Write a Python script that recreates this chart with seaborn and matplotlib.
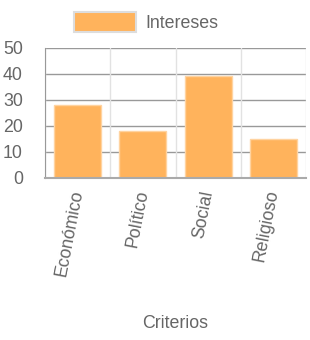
import matplotlib
matplotlib.use("Agg")
import matplotlib.pyplot as plt
import matplotlib.patches as mpatches
import seaborn as sns
import pandas as pd

categorias = ["Económico", "Político", "Social", "Religioso"]
intereses = [28, 18, 39, 15]
y_ticks = [0, 10, 20, 30, 40, 50]
serie = "Intereses"
x_titulo = "Criterios"

sns.set_style("white")
plt.rcParams["font.family"] = ["Liberation Sans", "DejaVu Sans"]

FS = 12.8
W, H = 310, 340
fig = plt.figure(figsize=(W / 100, H / 100), dpi=100)
ax = fig.add_axes([45 / W, 1 - 177.7 / H, (306 - 45) / W, (177.7 - 47.5) / H])

df = pd.DataFrame({"cat": categorias, "val": intereses})
bar_color = "#FFB35C"
sns.barplot(data=df, x="cat", y="val", color=bar_color, saturation=1, width=0.72,
            edgecolor="#FFD3A0", linewidth=1, ax=ax)

ax.set_xlim(-0.5, len(categorias) - 0.5)
ax.set_ylim(0, 50)
ax.set_yticks(y_ticks)
ax.set_yticklabels([str(v) for v in y_ticks], fontsize=FS, color="#666666")

# grid
for v in y_ticks[1:]:
    ax.axhline(v, color="#999999", lw=1, zorder=0)
ax.set_xticks([i - 0.5 for i in range(len(categorias) + 1)], minor=True)
ax.grid(False)
ax.xaxis.grid(True, which="minor", color="#e2e2e2", lw=1, zorder=0)
ax.set_axisbelow(True)
ax.tick_params(axis="x", which="minor", length=15, color="#e2e2e2", width=1, direction="out")
ax.tick_params(axis="x", which="major", length=0, pad=9)
ax.tick_params(axis="y", length=14, color="#999999", width=1, pad=2)

ax.set_xticks(range(len(categorias)))
ax.set_xticklabels(categorias, rotation=79, rotation_mode="anchor", ha="right", va="center",
                   fontsize=FS, color="#666666")

for s in ["top", "right"]:
    ax.spines[s].set_visible(False)
ax.spines["left"].set_color("#999999")
ax.spines["bottom"].set_color("#aaaaaa")
ax.spines["bottom"].set_linewidth(1.5)

ax.set_xlabel("")
ax.set_ylabel("")
fig.text(175 / W, 1 - 323 / H, x_titulo, ha="center", va="center", fontsize=FS, color="#666666")

handle = mpatches.Patch(facecolor=bar_color, edgecolor="#dddddd", linewidth=1.5, label=serie)
fig.legend(handles=[handle], loc="center", bbox_to_anchor=(146 / W, 1 - 22 / H), frameon=False,
           fontsize=FS, labelcolor="#666666", handlelength=3.5, handleheight=1.4, handletextpad=0.5)

fig.savefig("out.png", dpi=100)
